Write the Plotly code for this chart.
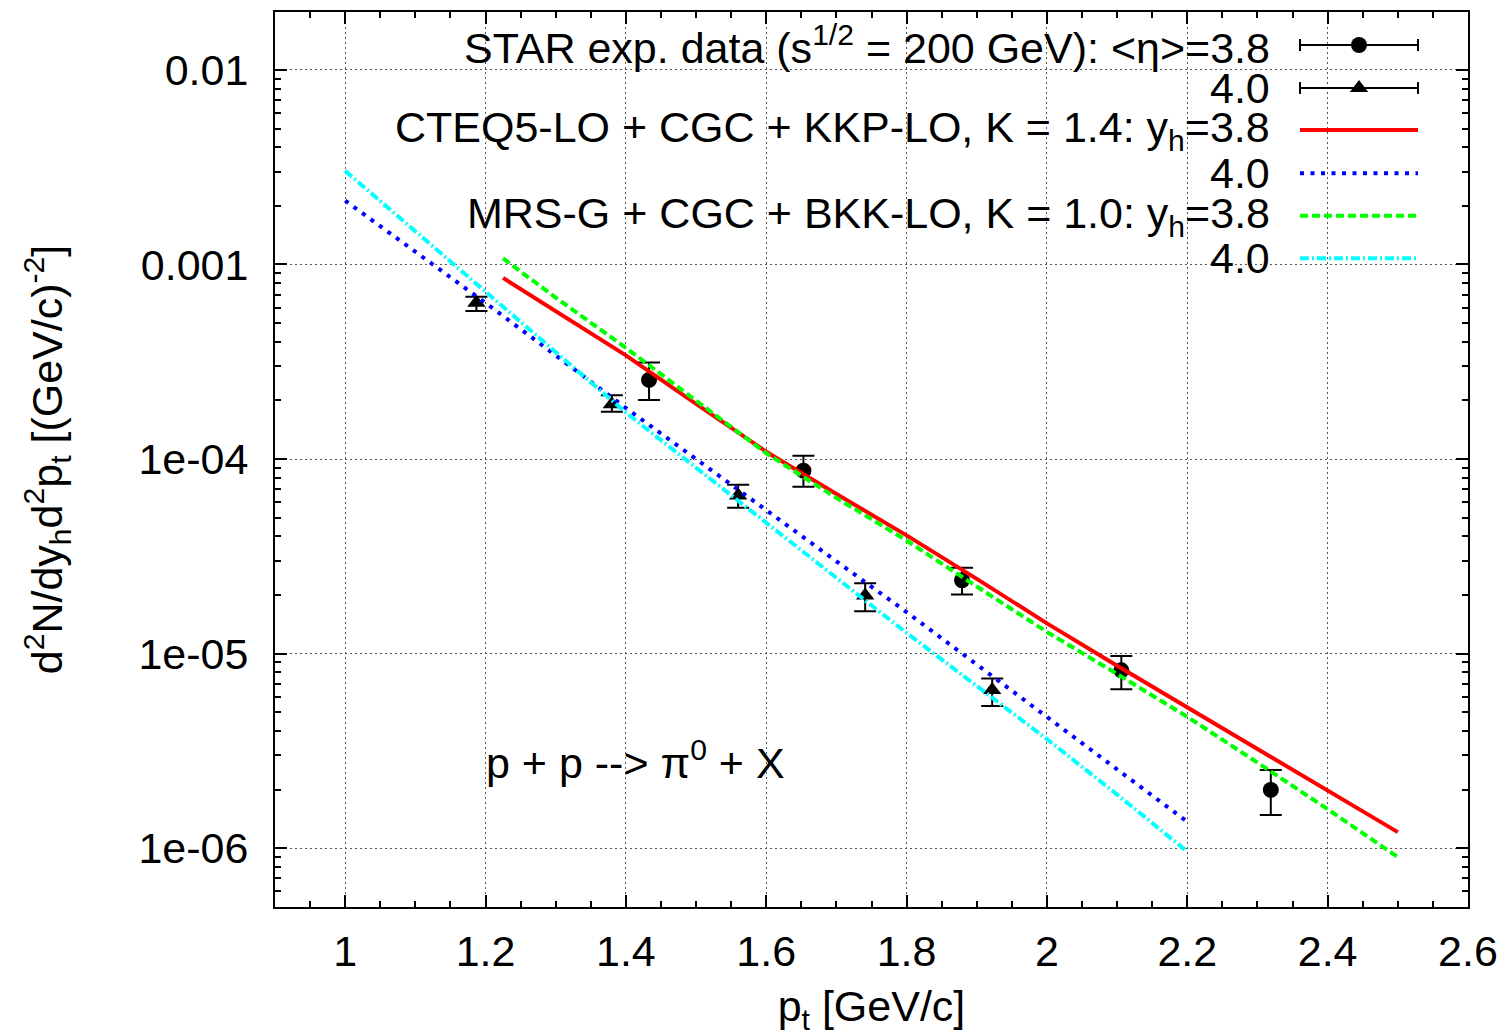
import plotly.graph_objects as go

# ---------------- data ----------------
# STAR data, <eta> = 3.8 (circles)
star38_pt = [1.433, 1.653, 1.879, 2.106, 2.319]
star38_val = [2.55e-4, 8.71e-5, 2.38e-5, 8.2e-6, 1.99e-6]
star38_hi = [3.13e-4, 1.04e-4, 2.76e-5, 9.7e-6, 2.52e-6]
star38_lo = [2.01e-4, 7.21e-5, 2.01e-5, 6.56e-6, 1.48e-6]

# STAR data, <eta> = 4.0 (triangles)
star40_pt = [1.187, 1.380, 1.560, 1.741, 1.922]
star40_val = [6.35e-4, 1.91e-4, 6.49e-5, 1.99e-5, 6.49e-6]
star40_hi = [6.82e-4, 2.13e-4, 7.38e-5, 2.30e-5, 7.45e-6]
star40_lo = [5.77e-4, 1.75e-4, 5.61e-5, 1.65e-5, 5.37e-6]

# CTEQ5-LO + CGC + KKP-LO, K=1.4, y_h=3.8
cteq38_pt = [1.225, 1.3, 1.4, 1.5, 1.6, 1.7, 1.8, 1.9, 2.0, 2.1, 2.2, 2.3, 2.4, 2.5]
cteq38_val = [8.53e-4, 5.75e-4, 3.41e-4, 1.92e-4, 1.09e-4, 6.61e-5, 4.05e-5,
              2.42e-5, 1.43e-5, 8.65e-6, 5.30e-6, 3.25e-6, 1.99e-6, 1.208e-6]
# CTEQ5-LO + CGC + KKP-LO, K=1.4, y_h=4.0
cteq40_pt = [1.0, 1.1, 1.2, 1.3, 1.4, 1.5, 1.6, 1.7, 1.8, 1.9, 2.0, 2.1, 2.2]
cteq40_val = [2.13e-3, 1.161e-3, 6.35e-4, 3.41e-4, 1.828e-4, 1.0e-4, 5.43e-5,
              2.98e-5, 1.633e-5, 8.77e-6, 4.71e-6, 2.53e-6, 1.365e-6]
# MRS-G + CGC + BKK-LO, K=1.0, y_h=3.8
mrsg38_pt = [1.225, 1.3, 1.4, 1.5, 1.6, 1.7, 1.8, 1.9, 2.0, 2.1, 2.2, 2.3, 2.4, 2.5]
mrsg38_val = [1.074e-3, 6.76e-4, 3.73e-4, 1.995e-4, 1.07e-4, 6.31e-5, 3.81e-5,
              2.21e-5, 1.291e-5, 7.85e-6, 4.73e-6, 2.75e-6, 1.585e-6, 8.99e-7]
# MRS-G + CGC + BKK-LO, K=1.0, y_h=4.0
mrsg40_pt = [1.0, 1.1, 1.2, 1.3, 1.4, 1.5, 1.6, 1.7, 1.8, 1.9, 2.0, 2.1, 2.197]
mrsg40_val = [3.03e-3, 1.486e-3, 7.29e-4, 3.55e-4, 1.734e-4, 9.02e-5, 4.73e-5,
              2.45e-5, 1.276e-5, 6.84e-6, 3.63e-6, 1.884e-6, 9.79e-7]

x_tickvals = [1.0, 1.2, 1.4, 1.6, 1.8, 2.0, 2.2, 2.4, 2.6]
x_ticktext = ["1", "1.2", "1.4", "1.6", "1.8", "2", "2.2", "2.4", "2.6"]
y_tickvals = [1e-6, 1e-5, 1e-4, 1e-3, 1e-2]
y_ticktext = ["1e-06", "1e-05", "1e-04", "0.001", "0.01"]

legend_labels = [
    "STAR exp. data (s<sup>1/2</sup> = 200 GeV): &lt;η&gt;=3.8",
    "4.0",
    "CTEQ5-LO + CGC + KKP-LO, K = 1.4: y<sub>h</sub>=3.8",
    "4.0",
    "MRS-G + CGC + BKK-LO, K = 1.0: y<sub>h</sub>=3.8",
    "4.0",
]

# ---------------- styles ----------------
FONT = "Liberation Sans, Arial, sans-serif"
FS = 43
W, H = 1512, 1036
ML, MR, MT, MB = 275, 44, 12, 129
PW, PH = W - ML - MR, H - MT - MB

def px2paper_x(px):
    return (px - ML) / PW

def px2paper_y(py):
    return (H - MB - py) / PH

RED = "#ff0000"
BLUE = "#0000ff"
GREEN = "#00ff00"
CYAN = "#00ffff"
DASH_BLUE = "4px,6.5px"
DASH_GREEN = "8px,4px"
DASH_CYAN = "9px,3px,2px,3px"

fig = go.Figure()

def err_pair(val, hi, lo):
    return [h - v for v, h in zip(val, hi)], [v - l for v, l in zip(val, lo)]

ep38, em38 = err_pair(star38_val, star38_hi, star38_lo)
ep40, em40 = err_pair(star40_val, star40_hi, star40_lo)

fig.add_trace(go.Scatter(
    x=star38_pt, y=star38_val, mode="markers",
    marker=dict(symbol="circle", size=16, color="black"),
    error_y=dict(type="data", array=ep38, arrayminus=em38, color="black",
                 thickness=2, width=11),
    showlegend=False))
fig.add_trace(go.Scatter(
    x=star40_pt, y=star40_val, mode="markers",
    marker=dict(symbol="triangle-up", size=16, color="black"),
    error_y=dict(type="data", array=ep40, arrayminus=em40, color="black",
                 thickness=2, width=11),
    showlegend=False))

curves = [
    (cteq38_pt, cteq38_val, RED, "solid"),
    (cteq40_pt, cteq40_val, BLUE, DASH_BLUE),
    (mrsg38_pt, mrsg38_val, GREEN, DASH_GREEN),
    (mrsg40_pt, mrsg40_val, CYAN, DASH_CYAN),
]
for xs, ys, col, dash in curves:
    fig.add_trace(go.Scatter(x=xs, y=ys, mode="lines",
                             line=dict(color=col, width=4, dash=dash),
                             showlegend=False))

# ---------------- custom legend (text left, sample right) ----------------
row_py = [45, 88, 130, 173.3, 215.7, 258.3]
rows_y = [px2paper_y(p) for p in row_py]
sx0, sx1 = px2paper_x(1300), px2paper_x(1418)
sxc = (sx0 + sx1) / 2
half = (sx1 - sx0) / 2

fig.add_trace(go.Scatter(x=[sxc], y=[rows_y[0]], xaxis="x2", yaxis="y2", mode="markers",
                         marker=dict(symbol="circle", size=16, color="black"),
                         error_x=dict(type="constant", value=half, color="black", thickness=2, width=6),
                         showlegend=False, hoverinfo="skip"))
fig.add_trace(go.Scatter(x=[sxc], y=[rows_y[1]], xaxis="x2", yaxis="y2", mode="markers",
                         marker=dict(symbol="triangle-up", size=16, color="black"),
                         error_x=dict(type="constant", value=half, color="black", thickness=2, width=6),
                         showlegend=False, hoverinfo="skip"))
for i, (_, _, col, dash) in enumerate(curves):
    fig.add_trace(go.Scatter(x=[sx0, sx1], y=[rows_y[i + 2]] * 2, xaxis="x2", yaxis="y2",
                             mode="lines", line=dict(color=col, width=4, dash=dash),
                             showlegend=False, hoverinfo="skip"))

text_right = px2paper_x(1272)
for lab, yy in zip(legend_labels, rows_y):
    fig.add_annotation(x=text_right, y=yy, xref="paper", yref="paper", text=lab,
                       showarrow=False, xanchor="right", yanchor="middle",
                       font=dict(family=FONT, size=FS, color="black"))

fig.add_annotation(x=px2paper_x(484), y=px2paper_y(760), xref="paper", yref="paper",
                   text="p + p --&gt; π<sup>0</sup> + X", showarrow=False,
                   xanchor="left", yanchor="middle",
                   font=dict(family=FONT, size=FS, color="black"))

# ---------------- axes ----------------
y_minor = [k * 10.0 ** e for e in range(-7, -1) for k in range(2, 10)]

fig.update_layout(
    width=W, height=H,
    margin=dict(l=ML, r=MR, t=MT, b=MB, pad=0, autoexpand=False),
    paper_bgcolor="white", plot_bgcolor="rgba(0,0,0,0)",
    font=dict(family=FONT, size=FS, color="black"),
    showlegend=False,
    xaxis=dict(
        range=[0.9, 2.6], tickvals=x_tickvals, ticktext=x_ticktext, automargin=False,
        ticks="inside", ticklen=12, tickwidth=1.5, tickcolor="black",
        showline=True, linecolor="black", linewidth=2, mirror="allticks",
        showgrid=True, gridcolor="#555555", gridwidth=1, griddash="2px,3px",
        zeroline=False, ticklabelstandoff=5,
        minor=dict(dtick=0.05, tick0=0.9, ticks="inside", ticklen=6, tickwidth=1.5,
                   tickcolor="black", showgrid=False),
        title=dict(text="p<sub>t</sub> [GeV/c]", font=dict(family=FONT, size=FS), standoff=28),
        tickfont=dict(family=FONT, size=FS),
    ),
    yaxis=dict(
        type="log", range=[-6.303, -1.702], tickvals=y_tickvals, ticktext=y_ticktext,
        automargin=False,
        ticks="inside", ticklen=12, tickwidth=1.5, tickcolor="black",
        showline=True, linecolor="black", linewidth=2, mirror="allticks",
        showgrid=True, gridcolor="#555555", gridwidth=1, griddash="2px,3px",
        zeroline=False, ticklabelstandoff=16,
        minor=dict(tickvals=y_minor, ticks="inside", ticklen=6, tickwidth=1.5,
                   tickcolor="black", showgrid=False),
        title=dict(text="d<sup>2</sup>N/dy<sub>h</sub>d<sup>2</sup>p<sub>t</sub> [(GeV/c)<sup>-2</sup>]",
                   font=dict(family=FONT, size=FS), standoff=62),
        tickfont=dict(family=FONT, size=FS),
    ),
    xaxis2=dict(domain=[0, 1], range=[0, 1], anchor="y2", visible=False, fixedrange=True),
    yaxis2=dict(domain=[0, 1], range=[0, 1], anchor="x2", visible=False, fixedrange=True),
)

fig.write_html("out.html")
